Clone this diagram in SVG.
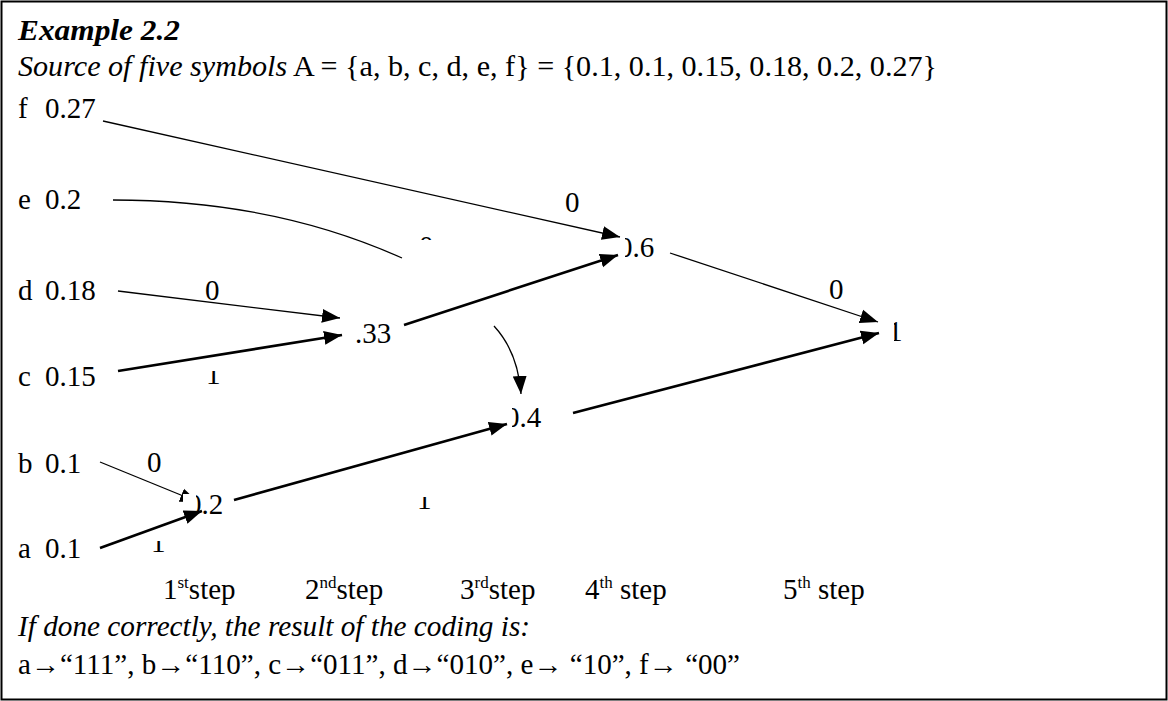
<svg xmlns="http://www.w3.org/2000/svg" width="1168" height="701" viewBox="0 0 1168 701">
<style>
text{font-family:"Liberation Serif","Times New Roman",serif;font-size:29px;fill:#000}
.it{font-style:italic}
.bi{font-style:italic;font-weight:bold}
.sup{font-size:17px}
.thin{fill:none;stroke:#000;stroke-width:1.3}
.thick{fill:none;stroke:#000;stroke-width:2.6}
</style>
<defs>
<marker id="ah" markerUnits="userSpaceOnUse" markerWidth="20" markerHeight="16" refX="18" refY="8" orient="auto"><path d="M0,1 L18,8 L0,15 Z" fill="#000"/></marker>
<clipPath id="c06"><rect x="625" y="220" width="60" height="50"/></clipPath>
<clipPath id="c04"><rect x="512" y="390" width="60" height="50"/></clipPath>
<clipPath id="c02"><rect x="196" y="480" width="60" height="45"/></clipPath>
<clipPath id="c1end"><rect x="894" y="310" width="20" height="40"/></clipPath>
<clipPath id="c1a"><rect x="200" y="371" width="30" height="20"/></clipPath>
<clipPath id="c1b"><rect x="410" y="497" width="30" height="20"/></clipPath>
<clipPath id="c1c"><rect x="145" y="541" width="30" height="20"/></clipPath>
<clipPath id="c0e"><rect x="410" y="225" width="30" height="15"/></clipPath>
<clipPath id="cb"><path d="M90,450 H200 V494 H183 V510 H90 Z"/></clipPath>
</defs>
<rect x="1.5" y="1.5" width="1165" height="698" fill="#fff" stroke="#000" stroke-width="2"/>
<g id="header">
<text x="18" y="40" class="bi" textLength="162" lengthAdjust="spacingAndGlyphs">Example 2.2</text>
<text x="18" y="76" textLength="919" lengthAdjust="spacingAndGlyphs"><tspan class="it">Source of five symbols</tspan> A = {a, b, c, d, e, f} = {0.1, 0.1, 0.15, 0.18, 0.2, 0.27}</text>
</g>
<g id="connectors">
<path class="thin" d="M103,121 L620,237" marker-end="url(#ah)"/>
<path class="thin" d="M113,200 Q273,200 402,258"/>
<path class="thin" d="M118,291 L340,318" marker-end="url(#ah)"/>
<path class="thick" d="M118,371 L342,335" marker-end="url(#ah)"/>
<path class="thick" d="M404,325 L618,255" marker-end="url(#ah)"/>
<path class="thin" d="M494,326 Q518,352 521,394" marker-end="url(#ah)"/>
<path class="thin" d="M670,253 L878,322" marker-end="url(#ah)"/>
<path class="thick" d="M573,413 L879,333" marker-end="url(#ah)"/>
<g clip-path="url(#cb)"><path class="thin" d="M100,462 L198,502" marker-end="url(#ah)"/></g>
<path class="thick" d="M100,548 L202,511" marker-end="url(#ah)"/>
<path class="thick" d="M234,500 L507,424" marker-end="url(#ah)"/>
</g>
<g id="leaf-f"><text x="18" y="118">f</text><text x="45" y="118">0.27</text></g>
<g id="leaf-e"><text x="18" y="209">e</text><text x="45" y="209">0.2</text></g>
<g id="leaf-d"><text x="18" y="300">d</text><text x="45" y="300">0.18</text></g>
<g id="leaf-c"><text x="18" y="386">c</text><text x="45" y="386">0.15</text></g>
<g id="leaf-b"><text x="18" y="473">b</text><text x="45" y="473">0.1</text></g>
<g id="leaf-a"><text x="18" y="558">a</text><text x="45" y="558">0.1</text></g>
<g id="node-02"><text x="187" y="514" clip-path="url(#c02)">0.2</text></g>
<g id="node-033"><text x="355" y="343">.33</text></g>
<g id="node-04"><text x="505" y="427" clip-path="url(#c04)">0.4</text></g>
<g id="node-06"><text x="618" y="257" clip-path="url(#c06)">0.6</text></g>
<g id="node-1"><text x="888" y="341" clip-path="url(#c1end)">1</text></g>
<g id="labels">
<text x="565" y="212">0</text>
<text x="205" y="300">0</text>
<text x="829" y="299">0</text>
<text x="147" y="472">0</text>
<text x="419" y="256" clip-path="url(#c0e)">0</text>
<text x="206" y="384" clip-path="url(#c1a)">1</text>
<text x="417" y="509" clip-path="url(#c1b)">1</text>
<text x="151" y="552" clip-path="url(#c1c)">1</text>
</g>
<g id="steps">
<text x="163" y="599">1<tspan class="sup" dy="-11">st</tspan><tspan dy="11">step</tspan></text>
<text x="305" y="599">2<tspan class="sup" dy="-11">nd</tspan><tspan dy="11">step</tspan></text>
<text x="460" y="599">3<tspan class="sup" dy="-11">rd</tspan><tspan dy="11">step</tspan></text>
<text x="585" y="599">4<tspan class="sup" dy="-11">th</tspan><tspan dy="11"> step</tspan></text>
<text x="783" y="599">5<tspan class="sup" dy="-11">th</tspan><tspan dy="11"> step</tspan></text>
</g>
<g id="footer">
<text x="18" y="636" class="it" textLength="512" lengthAdjust="spacingAndGlyphs">If done correctly, the result of the coding is:</text>
<text x="18" y="674" textLength="722" lengthAdjust="spacingAndGlyphs">a→“111”, b→“110”, c→“011”, d→“010”, e→ “10”, f→ “00”</text>
</g>
</svg>
